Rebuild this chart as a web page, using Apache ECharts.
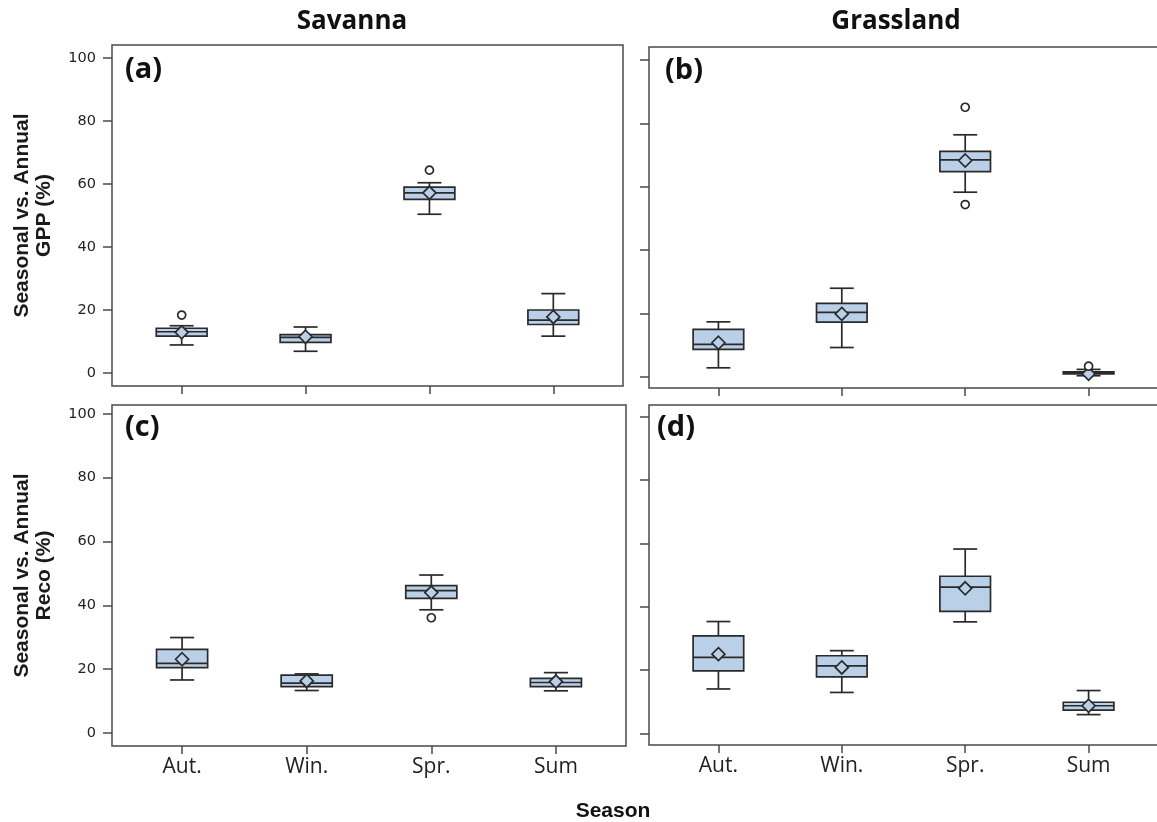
<!DOCTYPE html>
<html>
<head>
<meta charset="utf-8">
<script src="https://cdn.jsdelivr.net/npm/echarts@6/dist/echarts.min.js"></script>
<style>
  html, body { margin: 0; padding: 0; background: #ffffff; }
  #chart { width: 1157px; height: 822px; }
</style>
</head>
<body>
<div id="chart"></div>
<script>
// Seasons on the x axis (positions 1..4)
const seasons = ['Aut.', 'Win.', 'Spr.', 'Sum'];
const yTicks = [0, 20, 40, 60, 80, 100];

// Box statistics per season: [lower whisker, Q1, median, Q3, upper whisker]
const gppSavanna = [
  [8.9, 11.7, 13.1, 14.2, 15.0],
  [6.9, 9.7, 11.3, 12.2, 14.6],
  [50.4, 55.1, 57.2, 59.0, 60.4],
  [11.7, 15.4, 16.8, 20.0, 25.2]
];
const gppSavannaMean = [12.9, 11.5, 57.2, 17.8];
const gppSavannaOutliers = [[1, 18.4], [3, 64.4]];

const gppGrassland = [
  [2.9, 8.7, 10.3, 15.0, 17.4],
  [9.3, 17.3, 20.4, 23.2, 28.0],
  [58.3, 64.8, 68.5, 71.2, 76.4],
  [0.4, 1.0, 1.3, 1.6, 2.4]
];
const gppGrasslandMean = [10.8, 19.9, 68.3, 1.0];
const gppGrasslandOutliers = [[3, 85.1], [3, 54.4], [4, 3.4]];

const recoSavanna = [
  [16.6, 20.5, 21.8, 26.2, 29.9],
  [13.3, 14.5, 15.6, 18.1, 18.5],
  [38.6, 42.2, 44.6, 46.2, 49.5],
  [13.2, 14.5, 15.8, 17.1, 18.9]
];
const recoSavannaMean = [23.1, 16.3, 44.0, 16.1];
const recoSavannaOutliers = [[3, 36.1]];

const recoGrassland = [
  [14.0, 19.7, 24.0, 30.8, 35.3],
  [12.9, 17.8, 21.3, 24.5, 26.1],
  [35.2, 38.5, 46.2, 49.6, 58.2],
  [5.9, 7.3, 8.7, 9.8, 13.5]
];
const recoGrasslandMean = [25.0, 20.8, 45.8, 8.7];
const recoGrasslandOutliers = [];

const INK = '#2a2a2a';
const FRAME = '#4a4a4a';
const BOX_FILL = '#bacfe8';

const panels = [
  { stats: gppSavanna, mean: gppSavannaMean, outliers: gppSavannaOutliers, tag: '(a)',
    grid: { left: 112, top: 45, width: 511, height: 341 }, yRange: [-4.13, 104.13],
    xLabels: false, yLabels: true, yName: 'Seasonal vs. Annual\nGPP (%)', tagPos: [125, 55] },
  { stats: gppGrassland, mean: gppGrasslandMean, outliers: gppGrasslandOutliers, tag: '(b)',
    grid: { left: 649, top: 47, width: 509, height: 341 }, yRange: [-3.47, 104.1],
    xLabels: false, yLabels: false, yName: '', tagPos: [665, 56] },
  { stats: recoSavanna, mean: recoSavannaMean, outliers: recoSavannaOutliers, tag: '(c)',
    grid: { left: 112, top: 405, width: 514, height: 341 }, yRange: [-4.1, 102.8],
    xLabels: true, yLabels: true, yName: 'Seasonal vs. Annual\nReco (%)', tagPos: [125, 413] },
  { stats: recoGrassland, mean: recoGrasslandMean, outliers: recoGrasslandOutliers, tag: '(d)',
    grid: { left: 649, top: 405, width: 509, height: 340 }, yRange: [-3.7, 103.7],
    xLabels: true, yLabels: false, yName: '', tagPos: [657, 413] }
];

// Draws one box-and-whisker with a mean diamond, using the axis scales
function renderBox(params, api) {
  const x = api.value(0);
  const pLo = api.coord([x, api.value(1)]);
  const pQ1 = api.coord([x, api.value(2)]);
  const pMed = api.coord([x, api.value(3)]);
  const pQ3 = api.coord([x, api.value(4)]);
  const pHi = api.coord([x, api.value(5)]);
  const pMean = api.coord([x, api.value(6)]);
  const unit = api.size([1, 0])[0];
  const half = unit * 0.205;
  const cap = unit * 0.097;
  const d = 6.5;
  const cx = pMed[0];
  const ln = { stroke: INK, lineWidth: 1.7 };
  return {
    type: 'group',
    children: [
      { type: 'line', shape: { x1: cx, y1: pQ3[1], x2: cx, y2: pHi[1] }, style: ln },
      { type: 'line', shape: { x1: cx, y1: pQ1[1], x2: cx, y2: pLo[1] }, style: ln },
      { type: 'line', shape: { x1: cx - cap, y1: pHi[1], x2: cx + cap, y2: pHi[1] }, style: ln },
      { type: 'line', shape: { x1: cx - cap, y1: pLo[1], x2: cx + cap, y2: pLo[1] }, style: ln },
      { type: 'rect', shape: { x: cx - half, y: pQ3[1], width: 2 * half, height: pQ1[1] - pQ3[1] },
        style: { fill: BOX_FILL, stroke: INK, lineWidth: 1.7 } },
      { type: 'line', shape: { x1: cx - half, y1: pMed[1], x2: cx + half, y2: pMed[1] }, style: ln },
      { type: 'polygon',
        shape: { points: [[cx, pMean[1] - d], [cx + d, pMean[1]], [cx, pMean[1] + d], [cx - d, pMean[1]]] },
        style: { fill: BOX_FILL, stroke: INK, lineWidth: 1.7 } }
    ]
  };
}

const option = {
  backgroundColor: '#ffffff',
  animation: false,
  grid: [], xAxis: [], yAxis: [], series: [],
  graphic: []
};

panels.forEach((p, i) => {
  option.grid.push(Object.assign({
    show: true, borderColor: FRAME, borderWidth: 1.5, backgroundColor: 'transparent',
    containLabel: false, outerBoundsMode: 'none'
  }, p.grid));
  option.xAxis.push({
    type: 'value', gridIndex: i, min: 0.4375, max: 4.5625, position: 'bottom',
    splitLine: { show: false },
    axisLine: { show: false, onZero: false },
    axisTick: { show: true, inside: false, length: 8, customValues: [1, 2, 3, 4], lineStyle: { color: FRAME, width: 1.5 } },
    axisLabel: {
      show: p.xLabels, customValues: [1, 2, 3, 4], margin: 11,
      formatter: v => seasons[Math.round(v) - 1] || '',
      fontFamily: "'Open Sans', sans-serif", fontSize: 21, color: '#222'
    }
  });
  option.yAxis.push({
    type: 'value', gridIndex: i, min: p.yRange[0], max: p.yRange[1], position: 'left',
    splitLine: { show: false },
    axisLine: { show: false, onZero: false },
    axisTick: { show: true, inside: false, length: 9, customValues: yTicks, lineStyle: { color: FRAME, width: 1.5 } },
    axisLabel: {
      show: p.yLabels, customValues: yTicks, margin: 16,
      fontFamily: "'DejaVu Sans', sans-serif", fontSize: 14.5, color: '#222'
    },
    name: p.yName, nameLocation: 'middle', nameRotate: 90, nameGap: 57,
    nameTextStyle: {
      fontFamily: "'Liberation Sans', Arial, sans-serif",
      fontWeight: 'bold', fontSize: 21, lineHeight: 22, color: '#1a1a1a', align: 'center'
    }
  });
  option.series.push({
    type: 'custom', xAxisIndex: i, yAxisIndex: i,
    renderItem: renderBox,
    encode: { x: 0, y: [1, 2, 3, 4, 5, 6] },
    data: p.stats.map((s, k) => [k + 1, s[0], s[1], s[2], s[3], s[4], p.mean[k]]),
    z: 2
  });
  option.series.push({
    type: 'scatter', xAxisIndex: i, yAxisIndex: i,
    symbol: 'circle', symbolSize: 8,
    itemStyle: { color: '#ffffff', borderColor: INK, borderWidth: 1.7, opacity: 1 },
    data: p.outliers,
    z: 3
  });
  option.graphic.push({
    type: 'text', left: p.tagPos[0], top: p.tagPos[1],
    style: { text: p.tag, font: "bold 29px 'Open Sans', sans-serif", fill: '#111' }
  });
});

option.graphic.push(
  { type: 'text', x: 352, y: 22,
    style: { text: 'Savanna', font: "bold 26px 'Open Sans', sans-serif", fill: '#111', align: 'center', verticalAlign: 'middle' } },
  { type: 'text', x: 896, y: 22,
    style: { text: 'Grassland', font: "bold 26px 'Open Sans', sans-serif", fill: '#111', align: 'center', verticalAlign: 'middle' } },
  { type: 'text', x: 613, y: 811,
    style: { text: 'Season', font: "bold 21px 'Liberation Sans', Arial, sans-serif", fill: '#111', align: 'center', verticalAlign: 'middle' } }
);

const chart = echarts.init(document.getElementById('chart'), null, { renderer: 'canvas' });
chart.setOption(option);
</script>
</body>
</html>
